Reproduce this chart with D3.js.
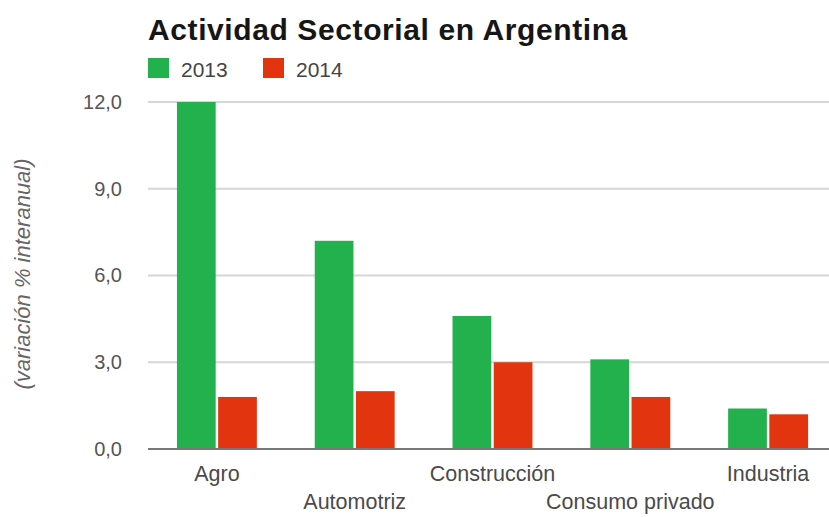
<!DOCTYPE html>
<html>
<head>
<meta charset="utf-8">
<script src="https://cdn.jsdelivr.net/npm/d3@7"></script>
<style>
  html, body { margin: 0; padding: 0; background: #fff; }
  svg { display: block; font-family: "Liberation Sans", Arial, sans-serif; }
</style>
</head>
<body>
<svg id="chart" width="829" height="517"></svg>
<script>
// Sector activity, year-on-year % change
const categories = ["Agro", "Automotriz", "Construcción", "Consumo privado", "Industria"];
const seriesNames = ["2013", "2014"];
const values2013 = [12.0, 7.2, 4.6, 3.1, 1.4];
const values2014 = [1.8, 2.0, 3.0, 1.8, 1.2];
const yTicks = [0, 3, 6, 9, 12];
const colors = ["#22b14c", "#e2350f"];

const rows = categories.map((c, i) => ({ cat: c, vals: [values2013[i], values2014[i]] }));

const svg = d3.select("#chart");
const plotLeft = 148, plotRight = 837, plotTop = 102, plotBottom = 449;

const x = d3.scaleBand().domain(categories).range([plotLeft, plotRight])
  .paddingInner(0.42).paddingOuter(0.21);
const xs = d3.scaleBand().domain(seriesNames).range([0, x.bandwidth()]).paddingInner(0.06);
const y = d3.scaleLinear().domain([0, 12]).range([plotBottom, plotTop]);

const loc = d3.formatLocale({ decimal: ",", thousands: ".", grouping: [3], currency: ["$", ""] });
const fmt = loc.format(".1f");

// Title
svg.append("text").attr("x", 148).attr("y", 40)
  .attr("font-size", 30).attr("font-weight", "bold").attr("fill", "#161616")
  .attr("letter-spacing", 0.6)
  .text("Actividad Sectorial en Argentina");

// Legend
const legendX = [148, 263];
seriesNames.forEach((s, i) => {
  svg.append("rect").attr("x", legendX[i]).attr("y", 58).attr("width", 21).attr("height", 20)
    .attr("fill", colors[i]);
  svg.append("text").attr("x", legendX[i] + 33).attr("y", 77)
    .attr("font-size", 21).attr("fill", "#444").text(s);
});

// Gridlines
svg.append("g").selectAll("line").data(yTicks.filter(t => t !== 0)).join("line")
  .attr("x1", plotLeft).attr("x2", 829)
  .attr("y1", d => y(d)).attr("y2", d => y(d))
  .attr("stroke", "#d6d6d6").attr("stroke-width", 2);

// Y axis labels
const yAxis = d3.axisLeft(y).tickValues(yTicks).tickFormat(fmt).tickSize(0).tickPadding(26);
const gy = svg.append("g").attr("transform", `translate(${plotLeft},0)`).call(yAxis);
gy.select(".domain").remove();
gy.selectAll("text").attr("font-size", 20).attr("fill", "#555")
  .attr("font-family", "'Liberation Sans', Arial, sans-serif");

// Y axis title
svg.append("text")
  .attr("transform", "translate(30,274) rotate(-90)")
  .attr("text-anchor", "middle").attr("font-size", 22).attr("font-style", "italic")
  .attr("fill", "#666").text("(variación % interanual)");

// Bars
const groups = svg.append("g").selectAll("g").data(rows).join("g")
  .attr("transform", d => `translate(${x(d.cat)},0)`);
groups.selectAll("rect").data(d => d.vals.map((v, i) => ({ v, s: seriesNames[i], i }))).join("rect")
  .attr("x", d => xs(d.s)).attr("width", xs.bandwidth())
  .attr("y", d => y(d.v)).attr("height", d => y(0) - y(d.v))
  .attr("fill", d => colors[d.i]);

// Baseline
svg.append("line").attr("x1", plotLeft).attr("x2", 829)
  .attr("y1", y(0)).attr("y2", y(0)).attr("stroke", "#777").attr("stroke-width", 2);

// X axis labels, staggered on two rows
const xAxis = d3.axisBottom(x).tickSize(0).tickPadding(0);
const gx = svg.append("g").attr("transform", `translate(0,${plotBottom})`).call(xAxis);
gx.select(".domain").remove();
gx.selectAll("text")
  .attr("font-size", 21.5).attr("fill", "#4a4a4a")
  .attr("font-family", "'Liberation Sans', Arial, sans-serif")
  .attr("dy", null)
  .attr("y", (d, i) => i % 2 === 0 ? 32 : 60);
</script>
</body>
</html>
